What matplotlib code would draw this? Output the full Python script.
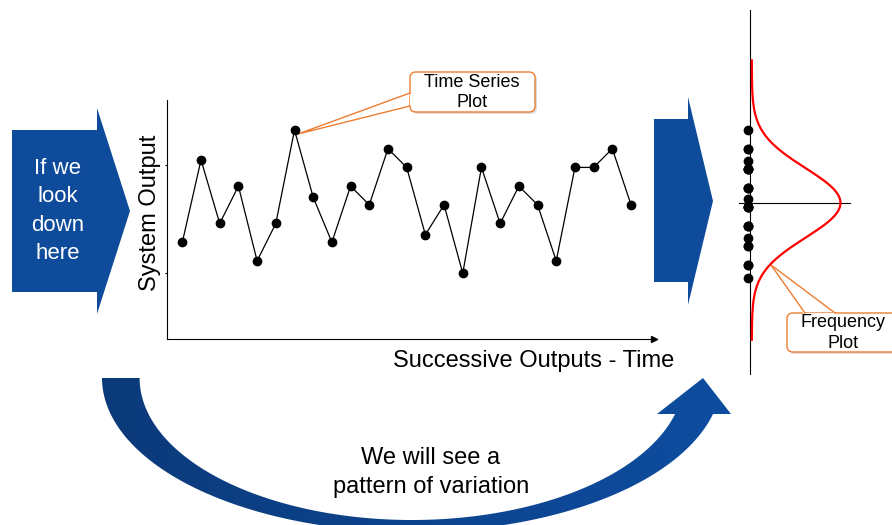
import numpy as np
import matplotlib.pyplot as plt
from matplotlib.patches import Polygon, FancyBboxPatch
from matplotlib.colors import LinearSegmentedColormap

plt.rcParams['font.family'] = ['Liberation Sans', 'DejaVu Sans']

# data
output_values = [6.0, 12.6, 7.5, 10.5, 4.5, 7.5, 15.0, 9.6, 6.0, 10.5, 9.0, 13.5,
                 12.0, 6.6, 9.0, 3.5, 12.0, 7.5, 10.5, 9.0, 4.5, 12.0, 12.0, 13.5, 9.0]
sample_index = np.arange(len(output_values))
y_tick_marks = [3.5, 12.2]
curve_sd = 2.7
curve_range = (-1.3, 20.4)

W, H = 892, 525
BLUE = '#0E4B9B'
ORANGE = '#ED7D31'


def fig_rect(x0, y0, x1, y1):
    # pixel box (y down) -> figure fraction
    return [x0 / W, 1 - y1 / H, (x1 - x0) / W, (y1 - y0) / H]


fig = plt.figure(figsize=(W / 100, H / 100), dpi=100)

# background layer for shapes and notes, pixel coordinates
bg = fig.add_axes([0, 0, 1, 1])
bg.set_xlim(0, W)
bg.set_ylim(H, 0)
bg.axis('off')

# block arrows
left_arrow = [(12, 130), (97, 130), (97, 108), (130, 211), (97, 314), (97, 292), (12, 292)]
mid_arrow = [(654, 119), (688, 119), (688, 97), (713, 201), (688, 305), (688, 282), (654, 282)]
bg.add_patch(Polygon(left_arrow, closed=True, facecolor=BLUE, edgecolor='none'))
bg.add_patch(Polygon(mid_arrow, closed=True, facecolor=BLUE, edgecolor='none'))
bg.text(58, 211, 'If we\nlook\ndown\nhere', color='white', fontsize=16,
        ha='center', va='center', linespacing=1.45)

# curved arrow at the bottom
cx = 411.8
t_out = np.linspace(np.pi, np.arcsin(36 / 154), 120)
t_in = np.linspace(np.arcsin(36 / 142), np.pi, 120)
outer = np.column_stack([cx + 309.8 * np.cos(t_out), 378 + 154 * np.sin(t_out)])
inner = np.column_stack([cx + 272.2 * np.cos(t_in), 378 + 142 * np.sin(t_in)])
head = np.array([(731, 414), (703, 378), (657, 414)])
arc = Polygon(np.vstack([outer, head, inner]), closed=True, facecolor='none', edgecolor='none')
bg.add_patch(arc)
cmap = LinearSegmentedColormap.from_list('arc', ['#0B3A7A', '#0E4DA0'])
grad = bg.imshow(np.linspace(0, 1, 256).reshape(1, -1), cmap=cmap, aspect='auto',
                 extent=(100, 735, 535, 375))
grad.set_clip_path(arc)
bg.set_xlim(0, W)
bg.set_ylim(H, 0)
bg.text(431, 472.5, 'We will see a\npattern of variation', fontsize=17,
        ha='center', va='center', linespacing=1.4)


def callout(x0, y0, x1, y1, tail, text, tx, ty):
    bg.add_patch(FancyBboxPatch((x0 + 2, y0 + 2), x1 - x0, y1 - y0,
                                boxstyle='round,pad=0,rounding_size=6',
                                facecolor='#BBBBBB', edgecolor='none', alpha=0.5))
    bg.add_patch(FancyBboxPatch((x0, y0), x1 - x0, y1 - y0,
                                boxstyle='round,pad=0,rounding_size=6',
                                facecolor='white', edgecolor=ORANGE, lw=1.0))
    bg.add_patch(Polygon(tail, closed=True, facecolor='white', edgecolor='none', zorder=3))
    tip, b1, b2 = tail[0], tail[1], tail[2]
    bg.plot([b1[0], tip[0], b2[0]], [b1[1], tip[1], b2[1]], color=ORANGE, lw=1.0, zorder=4)
    bg.text(tx, ty, text, fontsize=13, ha='center', va='center', linespacing=1.27, zorder=5)


callout(410, 72, 535, 112, [(298, 134), (410, 93), (410, 106), (413, 106), (413, 93)],
        'Time Series\nPlot', 472, 92.5)
callout(787, 313, 905, 352, [(771, 265), (805, 313), (835, 313), (835, 316), (805, 316)],
        'Frequency\nPlot', 843, 333)

# time series plot
ax = fig.add_axes(fig_rect(167, 100, 657, 339))
ax.patch.set_visible(False)
ax.plot(sample_index, output_values, '-o', color='black', lw=0.9, ms=6)
ax.set_xlim(-0.82, 25.39)
ax.set_ylim(-1.77, 17.41)
for s in ['top', 'right']:
    ax.spines[s].set_visible(False)
for s in ['left', 'bottom']:
    ax.spines[s].set_linewidth(0.8)
ax.set_xticks([])
ax.set_yticks(y_tick_marks)
ax.set_yticklabels([])
ax.tick_params(axis='y', length=1.5, width=0.8)
ax.plot(0.993, 0, '>', transform=ax.transAxes, clip_on=False, color='black', ms=5)
ax.set_ylabel('System Output', fontsize=17)
ax.yaxis.set_label_coords(-0.012, 0.527)
ax.set_xlabel('Successive Outputs - Time', fontsize=17)
ax.xaxis.set_label_coords(0.748, -0.046)

# frequency plot
mean_val = np.mean(output_values)
fx = fig.add_axes(fig_rect(700, 10, 892, 375))
fx.set_xlim(-50 / 600, 142 / 600)
fx.set_ylim(-4.04, 24.32)
fx.axis('off')
fx.axvline(0, color='black', lw=0.8)
fx.plot([-0.0183, 0.1667], [mean_val, mean_val], color='black', lw=0.8)
curve_y = np.linspace(curve_range[0], curve_range[1], 300)
curve_x = 0.003 + np.exp(-0.5 * ((curve_y - mean_val) / curve_sd) ** 2) / (curve_sd * np.sqrt(2 * np.pi))
fx.plot(curve_x, curve_y, color='red', lw=1.6)
fx.plot(np.full(len(output_values), -0.003), output_values, 'o', color='black', ms=6)

fig.savefig('out.png', dpi=100)
